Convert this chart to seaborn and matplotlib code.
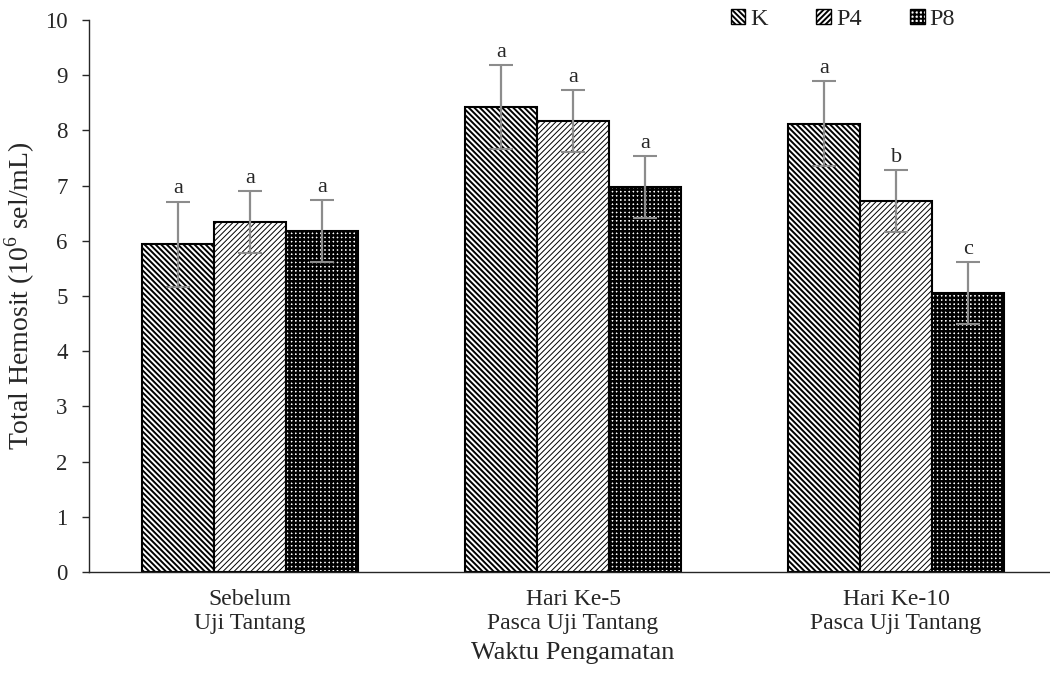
import pandas as pd
import numpy as np
import matplotlib.pyplot as plt
import seaborn as sns
from matplotlib.patches import Patch

waktu = ['Sebelum\nUji Tantang', 'Hari Ke-5\nPasca Uji Tantang', 'Hari Ke-10\nPasca Uji Tantang']
perlakuan = ['K', 'P4', 'P8']
nilai_K = [5.94, 8.42, 8.12]
nilai_P4 = [6.34, 8.17, 6.72]
nilai_P8 = [6.18, 6.97, 5.05]
sd_K = [0.77, 0.76, 0.77]
sd_P4 = [0.56, 0.56, 0.56]
sd_P8 = [0.56, 0.56, 0.56]
huruf_K = ['a', 'a', 'a']
huruf_P4 = ['a', 'a', 'b']
huruf_P8 = ['a', 'a', 'c']

df = pd.DataFrame({
    'Waktu': waktu * 3,
    'Perlakuan': ['K'] * 3 + ['P4'] * 3 + ['P8'] * 3,
    'Total': nilai_K + nilai_P4 + nilai_P8,
})
sd = {'K': sd_K, 'P4': sd_P4, 'P8': sd_P8}
huruf = {'K': huruf_K, 'P4': huruf_P4, 'P8': huruf_P8}

sns.set_style('ticks')
plt.rcParams['font.family'] = ['Liberation Serif', 'DejaVu Serif']
plt.rcParams['mathtext.fontset'] = 'custom'
plt.rcParams['mathtext.rm'] = 'Liberation Serif'
plt.rcParams['hatch.linewidth'] = 1.4

bs = chr(92)
hatches = {'K': bs * 6, 'P4': '/' * 6, 'P8': '++++'}
hatch_lw = {'K': 1.4, 'P4': 0.7, 'P8': 1.8}

fig = plt.figure(figsize=(10.5, 6.78), dpi=100)
ax = fig.add_axes([0.0843, 0.1563, 0.9229, 0.8142])

sns.barplot(data=df, x='Waktu', y='Total', hue='Perlakuan', order=waktu,
            hue_order=perlakuan, errorbar=None, width=0.67, ax=ax,
            palette=['white'] * 3, edgecolor='black', linewidth=1.5,
            legend=False)

for cont, p in zip(ax.containers, perlakuan):
    for i, bar in enumerate(cont):
        bar.set_hatch(hatches[p])
        if hasattr(bar, 'set_hatch_linewidth'):
            bar.set_hatch_linewidth(hatch_lw[p])
        cx = bar.get_x() + bar.get_width() / 2
        h = bar.get_height()
        ax.errorbar(cx, h, yerr=sd[p][i], color='#8c8c8c', elinewidth=1.6,
                    capsize=8.5, capthick=1.5, zorder=5)
        ax.text(cx, h + sd[p][i] + 0.06, huruf[p][i], ha='center', va='bottom',
                fontsize=16, zorder=6)

ax.set_ylim(0, 10)
ax.set_yticks(range(0, 11))
ax.set_xlim(-0.5, 2.5)
ax.tick_params(axis='y', labelsize=16.5, length=5, width=1, direction='out', pad=10)
ax.tick_params(axis='x', labelsize=17, length=0, pad=12)
ax.set_ylabel(r'Total Hemosit (10$^{6}$ sel/mL)', fontsize=20, labelpad=6)
ax.set_xlabel('Waktu Pengamatan', fontsize=19, labelpad=6)
for s in ['top', 'right']:
    ax.spines[s].set_visible(False)
ax.spines['left'].set_linewidth(1)
ax.spines['bottom'].set_linewidth(1)

handles = []
for p in perlakuan:
    hp = Patch(facecolor='white', edgecolor='black', hatch=hatches[p], label=p)
    if hasattr(hp, 'set_hatch_linewidth'):
        hp.set_hatch_linewidth(hatch_lw[p])
    handles.append(hp)
fig.legend(handles=handles, ncol=3, frameon=False, fontsize=17.5,
           loc='upper left', bbox_to_anchor=(0.696, 0.987),
           handlelength=0.6, handleheight=0.6, handletextpad=0.2,
           columnspacing=2.0, borderpad=0, borderaxespad=0)

fig.savefig('out.png', dpi=100)
